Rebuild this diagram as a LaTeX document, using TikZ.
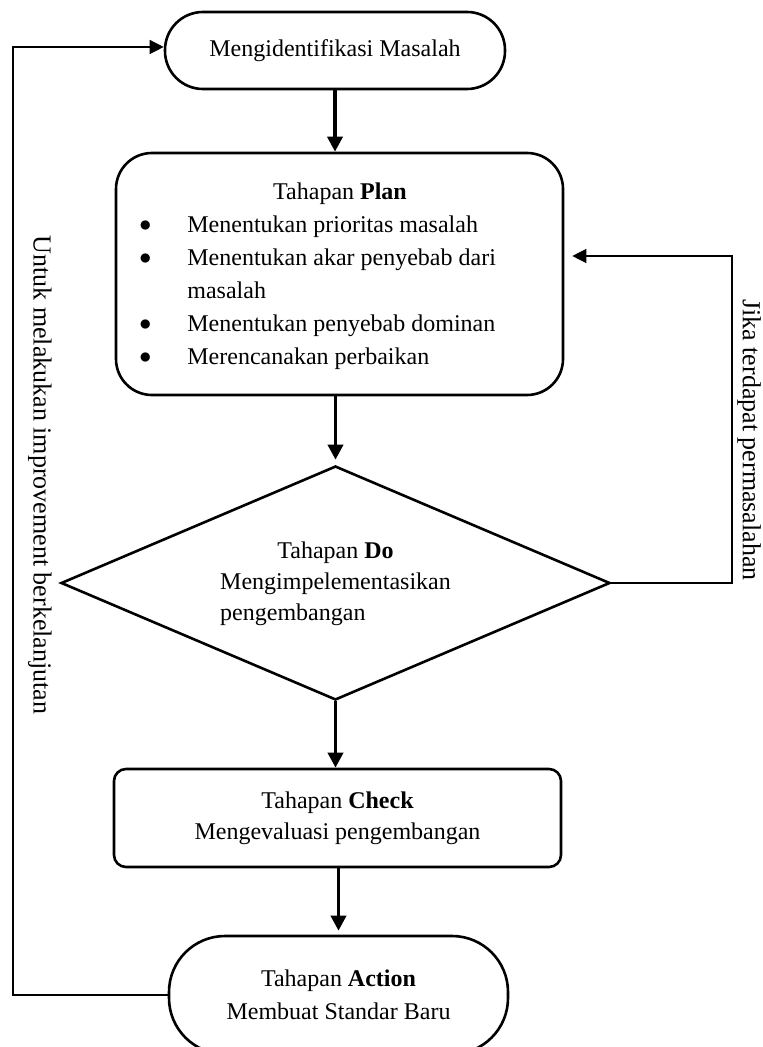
\documentclass[tikz,border=0pt]{standalone}
\usepackage{fontspec}
\setmainfont{Liberation Serif}
\usetikzlibrary{shapes.geometric,arrows.meta,calc}
\newcommand{\bigbul}{\raisebox{0.8pt}{$\bullet$}}
\begin{document}
\begin{tikzpicture}[x=0.5pt,y=-0.5pt,
  font=\fontsize{12}{16.5}\selectfont,
  box/.style={draw, line width=1.3pt, inner sep=0pt, align=center},
  term/.style={box, rounded corners=19pt},
  txt/.style={inner sep=0pt},
  sidetxt/.style={inner sep=0pt, rotate=-90, font=\fontsize{13}{16}\selectfont},
  thickarrow/.style={-{Triangle[length=7.5pt,width=7.5pt]}, line width=1.8pt},
  thinarrow/.style={-{Triangle[length=7pt,width=7pt]}, line width=0.65pt},
]
\useasboundingbox (0,0) rectangle (762,1047);

% top terminal
\node[term, minimum width=170pt, minimum height=38.5pt] (top) at (335,50.5) {Mengidentifikasi Masalah};

% plan box
\node[box, minimum width=223.5pt, minimum height=121pt, rounded corners=18pt] (plan) at (339.5,274) {};
\node[txt, anchor=base] (planH) at (340,200) {Tahapan \textbf{Plan}};
\node[txt, anchor=base west] (planL) at (139,233) {%
  \begin{tabular}[t]{@{}p{24pt}@{}l@{}}
  \bigbul & Menentukan prioritas masalah\\
  \bigbul & Menentukan akar penyebab dari\\
          & masalah\\
  \bigbul & Menentukan penyebab dominan\\
  \bigbul & Merencanakan perbaikan
  \end{tabular}};

% diamond
\node[draw, diamond, line width=1.3pt, inner sep=0pt, aspect=2.35,
      minimum width=274.5pt, minimum height=117pt] (dia) at (335.5,583) {%
  \fontsize{12}{15.5}\selectfont
  \begin{tabular}{@{}l@{}}
  \multicolumn{1}{c}{Tahapan \textbf{Do}}\\
  Mengimpelementasikan\\
  pengembangan
  \end{tabular}};

% check box
\node[box, minimum width=223.5pt, minimum height=49pt, rounded corners=6pt,
      font=\fontsize{12}{15.5}\selectfont] (check) at (337.5,818)
  {Tahapan \textbf{Check}\\Mengevaluasi pengembangan};

% action terminal
\node[box, minimum width=169.5pt, minimum height=59pt, rounded corners=28pt] (act) at (338.5,995)
  {Tahapan \textbf{Action}\\Membuat Standar Baru};

% side labels
\node[sidetxt] (ltxt) at (40,475) {Untuk melakukan improvement berkelanjutan};
\node[sidetxt] (rtxt) at (749,440) {Jika terdapat permasalahan};

% main flow arrows
\draw[thickarrow] (top.south) -- (top.south |- plan.north);
\draw[thickarrow, shorten >=2.5pt] (dia.north |- plan.south) -- (dia.north);
\draw[thickarrow] (dia.south) -- (dia.south |- check.north);
\draw[thickarrow, shorten >=2pt] (act.north |- check.south) -- (act.north);

% feedback loops
\coordinate (L) at (13,47);
\draw[thinarrow] (act.west) -| (L) -- (L -| top.west);
\coordinate (R) at (732,256);
\draw[thinarrow] (dia.east) -| (R) -- ([xshift=4pt]plan.east |- R);
\end{tikzpicture}
\end{document}
